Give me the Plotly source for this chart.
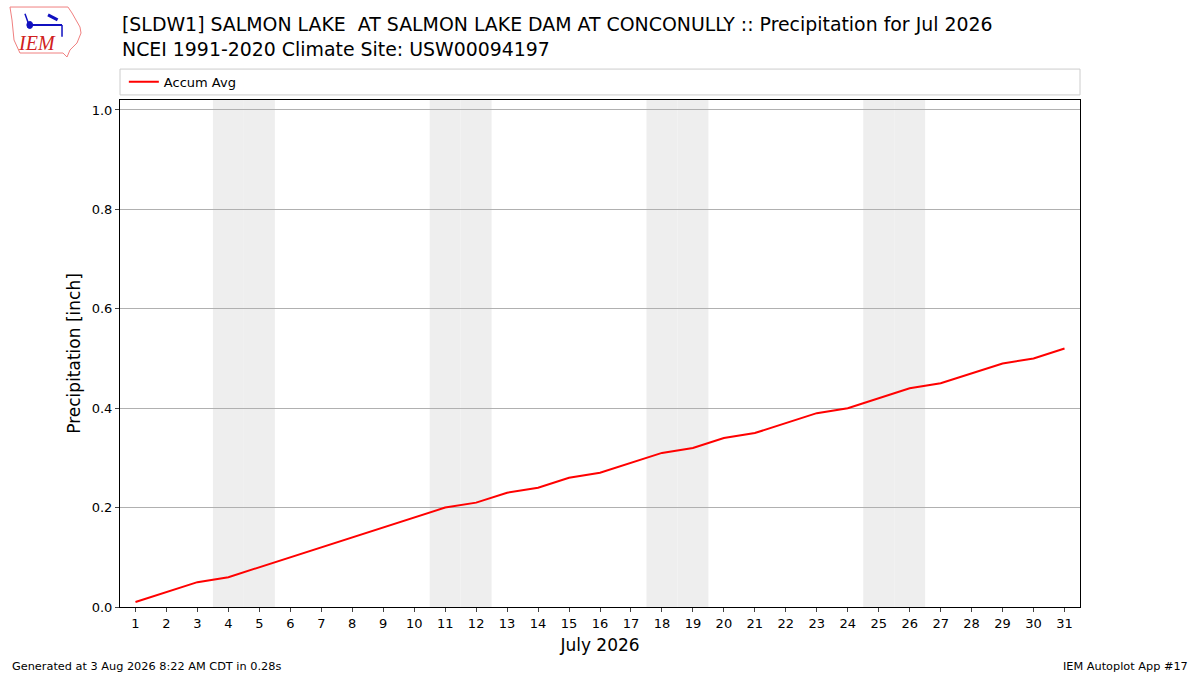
import plotly.graph_objects as go

# daily accumulated average precipitation, July (NCEI 1991-2020 normals)
days = list(range(1, 32))
accum_avg = [0.01, 0.03, 0.05, 0.06, 0.08, 0.10, 0.12, 0.14, 0.16, 0.18,
             0.20, 0.21, 0.23, 0.24, 0.26, 0.27, 0.29, 0.31, 0.32, 0.34,
             0.35, 0.37, 0.39, 0.40, 0.42, 0.44, 0.45, 0.47, 0.49, 0.50,
             0.52]
weekend_days = [4, 5, 11, 12, 18, 19, 25, 26]

title_line1 = "[SLDW1] SALMON LAKE  AT SALMON LAKE DAM AT CONCONULLY :: Precipitation for Jul 2026"
title_line2 = "NCEI 1991-2020 Climate Site: USW00094197"
footer_left = "Generated at 3 Aug 2026 8:22 AM CDT in 0.28s"
footer_right = "IEM Autoplot App #17"

FONT = "DejaVu Sans"

fig = go.Figure()

fig.add_trace(go.Scatter(
    x=days, y=accum_avg, mode="lines", name="Accum Avg",
    line=dict(color="red", width=2),
))

# weekend shading
for d in weekend_days:
    fig.add_vrect(x0=d - 0.5, x1=d + 0.5, fillcolor="#eeeeee", opacity=1,
                  line_width=0, layer="below")

# legend frame spanning the plot width
fig.add_shape(type="rect", xref="paper", yref="paper", x0=0, x1=1,
              y0=1.010, y1=1.061, line=dict(color="#cccccc", width=1),
              fillcolor="white")

# rough IEM logo (state outline + weather vane + text)
fig.add_shape(type="path", xref="paper", yref="paper",
              path="M -0.1146,1.1834 L -0.0542,1.1834 L -0.050,1.1716 L -0.0417,1.144 "
                   "L -0.0406,1.1321 L -0.0448,1.1124 L -0.0521,1.0986 L -0.0552,1.0848 "
                   "L -0.0594,1.0927 L -0.1042,1.0927 L -0.1104,1.1183 L -0.1125,1.1578 Z",
              line=dict(color="#f08080", width=1))
fig.add_shape(type="line", xref="paper", yref="paper",
              x0=-0.0938, x1=-0.0604, y0=1.148, y1=1.148,
              line=dict(color="#1010c0", width=2))
fig.add_shape(type="line", xref="paper", yref="paper",
              x0=-0.0948, x1=-0.0990, y0=1.148, y1=1.170,
              line=dict(color="#1010c0", width=1.5))
fig.add_shape(type="line", xref="paper", yref="paper",
              x0=-0.0750, x1=-0.0650, y0=1.168, y1=1.158,
              line=dict(color="#1010c0", width=3))
fig.add_shape(type="line", xref="paper", yref="paper",
              x0=-0.0604, x1=-0.0604, y0=1.148, y1=1.125,
              line=dict(color="#1010c0", width=1.5))
fig.add_shape(type="circle", xref="paper", yref="paper",
              x0=-0.0970, x1=-0.0910, y0=1.141, y1=1.155,
              fillcolor="#1010c0", line=dict(color="#1010c0", width=1))
fig.add_annotation(xref="paper", yref="paper", x=-0.0865, y=1.1124,
                   xanchor="center", yanchor="middle",
                   text="<i>IEM</i>", showarrow=False,
                   font=dict(family="Liberation Serif", size=20, color="#d02020"))

fig.add_annotation(xref="paper", yref="paper", x=0, y=1.176, xanchor="left",
                   yanchor="top", align="left", showarrow=False,
                   text=title_line1 + "<br>" + title_line2,
                   font=dict(family=FONT, size=18.9, color="black"))

fig.add_annotation(xref="paper", yref="paper", x=-0.1146, y=-0.118, xanchor="left",
                   yanchor="middle", showarrow=False, text=footer_left,
                   font=dict(family=FONT, size=11.3, color="black"))
fig.add_annotation(xref="paper", yref="paper", x=1.1146, y=-0.118, xanchor="right",
                   yanchor="middle", showarrow=False, text=footer_right,
                   font=dict(family=FONT, size=11.3, color="black"))

fig.update_xaxes(
    range=[0.5, 31.5], tickmode="array", tickvals=days,
    ticktext=[str(d) for d in days], ticks="outside", ticklen=4,
    showgrid=False, showline=True, linecolor="black", mirror=True,
    zeroline=False, title=dict(text="July 2026", font=dict(size=17), standoff=9),
    tickfont=dict(size=13),
)
fig.update_yaxes(
    range=[0, 1.02], tickmode="array", tickvals=[0, 0.2, 0.4, 0.6, 0.8, 1.0],
    tickformat=".1f", ticks="outside", ticklen=4,
    showgrid=True, gridcolor="#b0b0b0", gridwidth=1,
    showline=True, linecolor="black", mirror=True, zeroline=False,
    title=dict(text="Precipitation [inch]", font=dict(size=17), standoff=6),
    tickfont=dict(size=13),
)

fig.update_layout(
    width=1200, height=675,
    margin=dict(l=120, r=120, t=100, b=68),
    plot_bgcolor="white", paper_bgcolor="white",
    font=dict(family=FONT, color="black"),
    showlegend=True,
    legend=dict(x=0.004, y=1.036, xanchor="left", yanchor="middle",
                orientation="h", bgcolor="rgba(0,0,0,0)",
                font=dict(size=13)),
)

fig.write_html("out.html", config={"displayModeBar": False},
               post_script="document.body.style.margin='0';")
